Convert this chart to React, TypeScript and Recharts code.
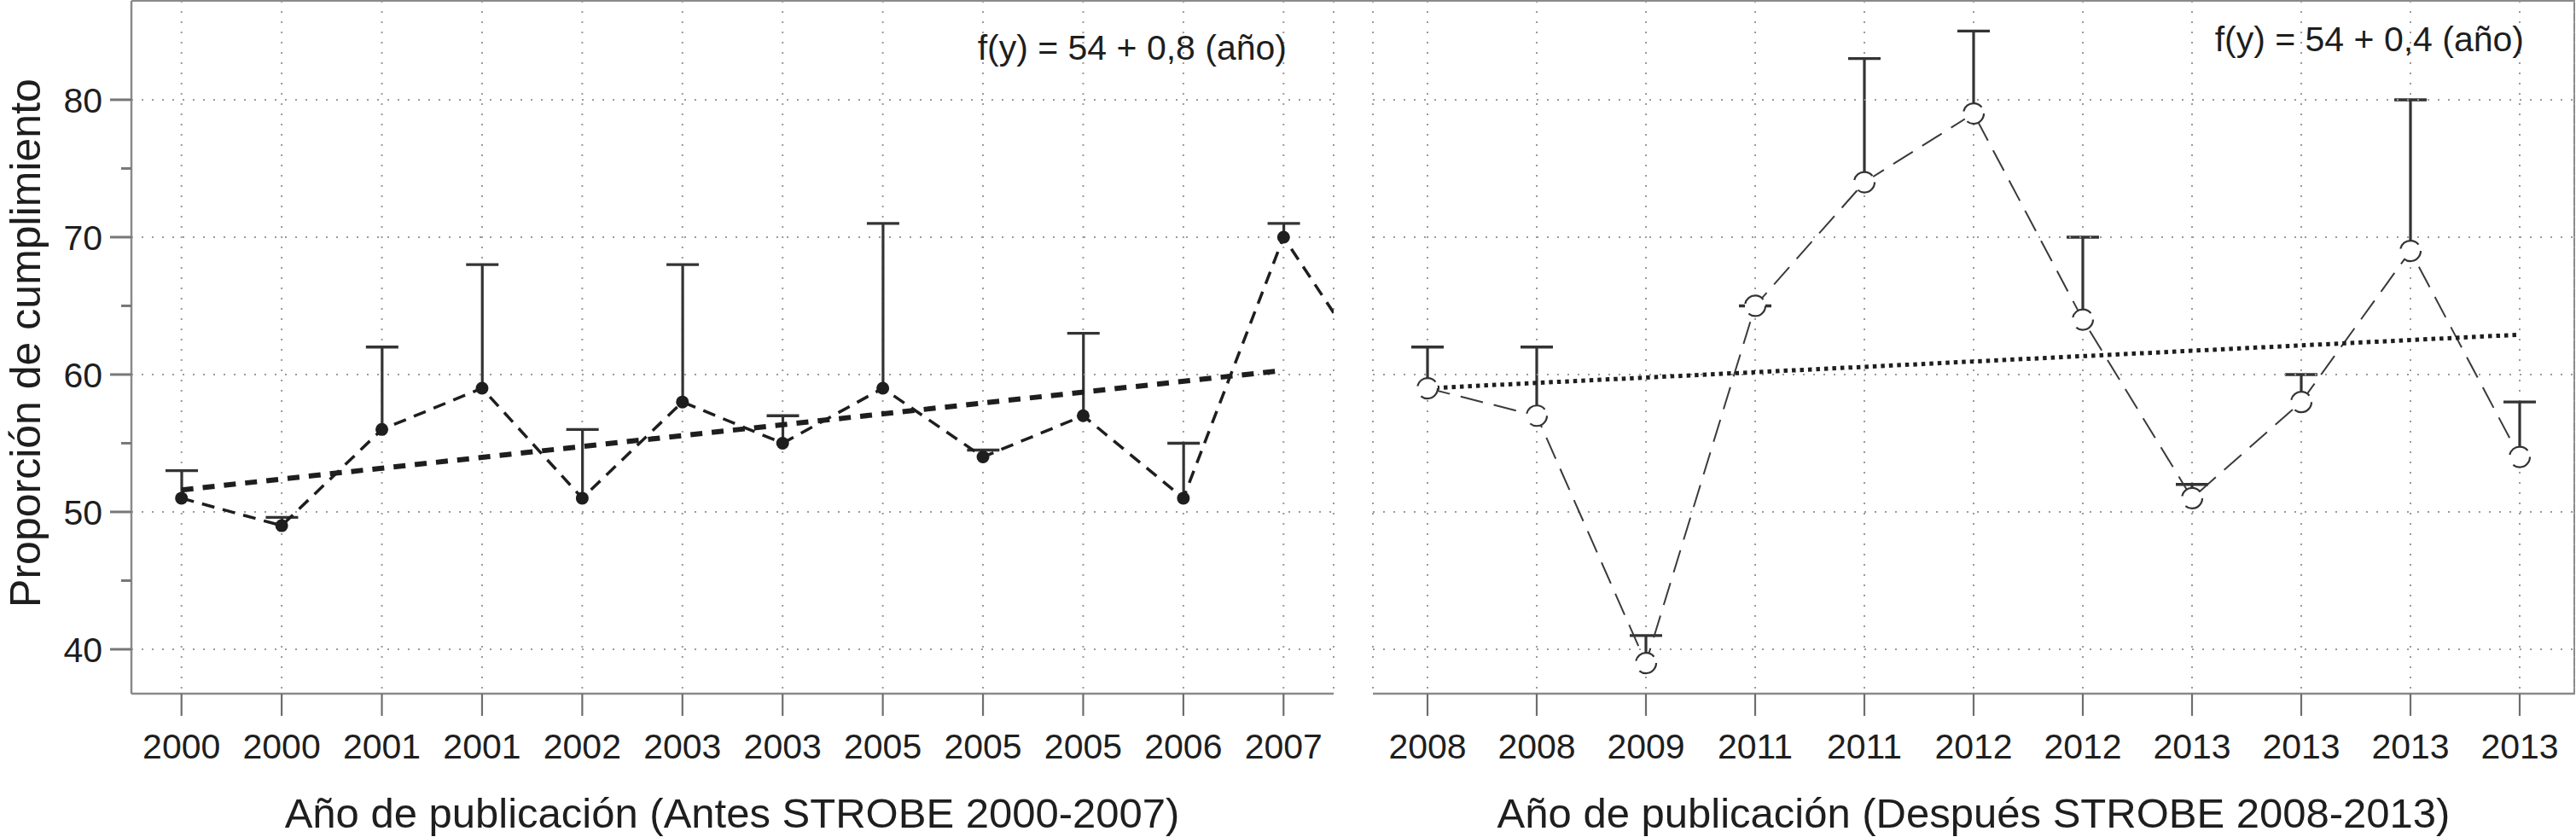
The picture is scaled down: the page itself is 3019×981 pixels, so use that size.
import { ComposedChart, Line, Bar, XAxis, YAxis, CartesianGrid, ReferenceLine } from 'recharts'

// Antes STROBE (2000-2007)
const leftYears = ['2000', '2000', '2001', '2001', '2002', '2003', '2003', '2005', '2005', '2005', '2006', '2007']
const leftMean = [51, 49, 56, 59, 51, 58, 55, 59, 54, 57, 51, 70]
const leftUpper = [53, 49.6, 62, 68, 56, 68, 57, 71, 54.5, 63, 55, 71]
const leftFitX = [0, 11]
const leftFitY = [51.6, 60.3]

// Después STROBE (2008-2013)
const rightYears = ['2008', '2008', '2009', '2011', '2011', '2012', '2012', '2013', '2013', '2013', '2013']
const rightMean = [59, 57, 39, 65, 74, 79, 64, 51, 58, 69, 54]
const rightUpper = [62, 62, 41, 65, 83, 85, 70, 52, 60, 80, 58]
const rightFitX = [0, 10]
const rightFitY = [59.0, 62.9]

const yTicks = [40, 45, 50, 55, 60, 65, 70, 75, 80]
const gridValues = [40, 50, 60, 70, 80]

const FONT = '"Liberation Sans", Arial, Helvetica, sans-serif'
const INK = '#1e1e1e'
const FRAME = '#8a8a8a'
const GRID = '#9a9a9a'
const Y_DOMAIN: [number, number] = [36.77, 87.2]

// the left line runs on towards the first 2008 value and is cut at the panel edge
const leftData: { i: number; v: number; hi: number | null }[] = leftMean.map((v, i) => ({ i, v, hi: leftUpper[i] }))
leftData.push({ i: leftMean.length, v: rightMean[0], hi: null })
const rightData = rightMean.map((v, i) => ({ i, v, hi: rightUpper[i] }))
const leftFit = leftFitX.map((i, k) => ({ i, f: leftFitY[k] }))
const rightFit = rightFitX.map((i, k) => ({ i, f: rightFitY[k] }))

const errRange = (d: any) => (d.hi == null ? null : [d.v, d.hi])

function Whisker(props: any) {
  const { x, y, width, height } = props
  if (x == null || y == null) return null
  const cx = x + width / 2
  return (
    <g>
      <line x1={cx} x2={cx} y1={y} y2={y + height} stroke="#333" strokeWidth={3.2} />
      <line x1={x} x2={x + width} y1={y} y2={y} stroke="#333" strokeWidth={3.4} />
    </g>
  )
}

function XTick({ x, y, payload, labels }: any) {
  return (
    <g>
      <line x1={x} x2={x} y1={y} y2={y + 26} stroke="#6e6e6e" strokeWidth={2.2} />
      <text x={x} y={y + 76} textAnchor="middle" fontSize={41} fill={INK} fontFamily={FONT}>
        {labels[payload.value]}
      </text>
    </g>
  )
}

function YTick({ x, y, payload }: any) {
  const major = payload.value % 10 === 0
  return (
    <g>
      <line x1={x - (major ? 25 : 12)} x2={x} y1={y} y2={y} stroke="#777" strokeWidth={3} />
      {major && (
        <text x={x - 34} y={y} dy="0.36em" textAnchor="end" fontSize={41} fill={INK} fontFamily={FONT}>
          {payload.value}
        </text>
      )}
    </g>
  )
}

export default function App() {
  return (
    <div style={{ position: 'absolute', left: 0, top: 0, width: 3019, height: 981, background: '#fff', fontFamily: FONT }}>
      <div
        style={{
          position: 'absolute', left: 154, top: 0, width: 2864, height: 814, boxSizing: 'border-box',
          borderTop: `2px solid ${FRAME}`, borderRight: `2.5px solid ${FRAME}`,
        }}
      />

      <div style={{ position: 'absolute', left: 0, top: 0 }}>
        <ComposedChart width={1600} height={981} data={leftData} margin={{ top: 1, right: 37, left: 54, bottom: 68 }}>
          <CartesianGrid horizontal={false} stroke={GRID} strokeWidth={2} strokeDasharray="2 10" />
          {gridValues.map((v) => (
            <ReferenceLine key={v} y={v} stroke={GRID} strokeWidth={2} strokeDasharray="2 10" />
          ))}
          <XAxis
            type="number" dataKey="i" domain={[-0.5, 11.5]} ticks={leftYears.map((_, i) => i)}
            allowDataOverflow interval={0} height={100} tickSize={0} tickMargin={0} tickLine={false}
            axisLine={{ stroke: FRAME, strokeWidth: 2.5 }}
            tick={(p: any) => <XTick {...p} labels={leftYears} />}
          />
          <YAxis
            type="number" domain={Y_DOMAIN} ticks={yTicks} allowDataOverflow width={100}
            tickSize={0} tickMargin={0} tickLine={false} axisLine={{ stroke: FRAME, strokeWidth: 2.5 }}
            tick={(p: any) => <YTick {...p} />}
          />
          <Bar dataKey={errRange} barSize={38} shape={(p: any) => <Whisker {...p} />} isAnimationActive={false} />
          <Line
            dataKey="v" type="linear" stroke={INK} strokeWidth={3.5} strokeDasharray="15 10"
            dot={{ r: 7.5, fill: INK, stroke: 'none' }} activeDot={false} isAnimationActive={false}
          />
          <Line
            data={leftFit} dataKey="f" type="linear" stroke={INK} strokeWidth={6} strokeDasharray="14 11"
            dot={false} activeDot={false} isAnimationActive={false}
          />
        </ComposedChart>
      </div>

      <div style={{ position: 'absolute', left: 1560, top: 0 }}>
        <ComposedChart width={1459} height={981} data={rightData} margin={{ top: 1, right: 2, left: 49, bottom: 68 }}>
          <CartesianGrid horizontal={false} stroke={GRID} strokeWidth={2} strokeDasharray="2 10" />
          {gridValues.map((v) => (
            <ReferenceLine key={v} y={v} stroke={GRID} strokeWidth={2} strokeDasharray="2 10" />
          ))}
          <XAxis
            type="number" dataKey="i" domain={[-0.5, 10.5]} ticks={rightYears.map((_, i) => i)}
            allowDataOverflow interval={0} height={100} tickSize={0} tickMargin={0} tickLine={false}
            axisLine={{ stroke: FRAME, strokeWidth: 2.5 }}
            tick={(p: any) => <XTick {...p} labels={rightYears} />}
          />
          <YAxis type="number" domain={Y_DOMAIN} allowDataOverflow hide />
          <Bar dataKey={errRange} barSize={38} shape={(p: any) => <Whisker {...p} />} isAnimationActive={false} />
          <Line
            dataKey="v" type="linear" stroke="#3a3a3a" strokeWidth={2} strokeDasharray="27 13"
            dot={{ r: 12, fill: '#fff', stroke: '#333', strokeWidth: 2.2 }} activeDot={false} isAnimationActive={false}
          />
          <Line
            data={rightFit} dataKey="f" type="linear" stroke={INK} strokeWidth={5} strokeDasharray="4.5 5"
            dot={false} activeDot={false} isAnimationActive={false}
          />
        </ComposedChart>
      </div>

      <svg width={3019} height={981} style={{ position: 'absolute', left: 0, top: 0, pointerEvents: 'none' }}>
        <g fontFamily={FONT} fill={INK}>
          <text transform="translate(47,402) rotate(-90)" textAnchor="middle" fontSize={50}>
            Proporción de cumplimiento
          </text>
          <text x={858} y={970} textAnchor="middle" fontSize={49}>
            Año de publicación (Antes STROBE 2000-2007)
          </text>
          <text x={2313} y={970} textAnchor="middle" fontSize={49}>
            Año de publicación (Después STROBE 2008-2013)
          </text>
          <text x={1508} y={70} textAnchor="end" fontSize={41}>
            f(y) = 54 + 0,8 (año)
          </text>
          <text x={2958} y={60} textAnchor="end" fontSize={41}>
            f(y) = 54 + 0,4 (año)
          </text>
        </g>
      </svg>
    </div>
  )
}
